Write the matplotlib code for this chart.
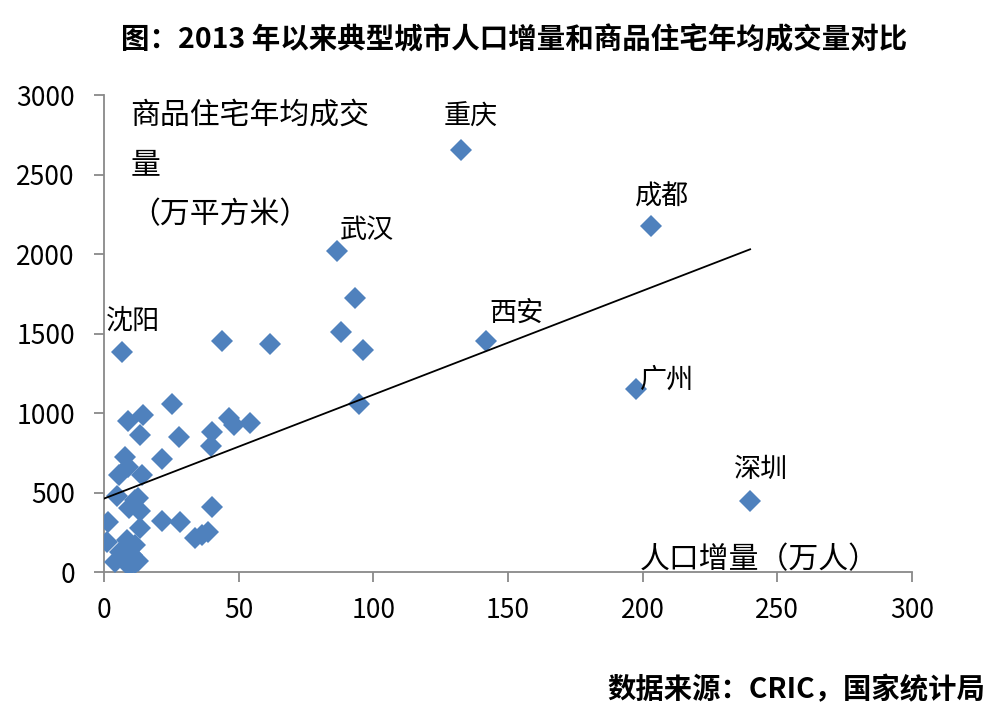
import numpy as np
import matplotlib
matplotlib.use('Agg')
from matplotlib import pyplot as plt

plt.rcParams['font.family'] = ['Noto Sans CJK SC', 'DejaVu Sans']

blue = '#4F81BD'
gray = '#898989'

# 人口增量（万人） vs 商品住宅年均成交量（万平方米）
city_names = ['重庆', '成都', '武汉', '西安', '广州', '深圳', '沈阳']
city_x = [132.4, 203.1, 86.5, 141.8, 197.5, 239.9, 6.8]
city_y = [2656, 2178, 2020, 1455, 1150, 448, 1386]
# label centres
label_x = [136.3, 207.2, 97.7, 153.0, 209.0, 244.0, 10.6]
label_y = [2862, 2358, 2151, 1629, 1208, 642, 1579]

other_x = [93.2, 88.0, 96.2, 94.7, 61.6, 43.8, 25.2, 14.6, 9.0, 13.4,
           27.8, 46.3, 48.4, 54.2, 40.2, 39.7, 21.4, 7.8, 9.0, 5.6,
           14.0, 4.7, 12.6, 9.4, 13.5, 11.5, 40.1, 1.6, 13.4, 21.4,
           28.2, 33.8, 36.3, 38.7, 1.0, 8.4, 11.5, 5.9, 10.3, 4.1,
           7.8, 12.7, 9.3, 11.5]
other_y = [1723, 1509, 1396, 1057, 1434, 1453, 1057, 987, 952, 862,
           847, 970, 925, 939, 880, 790, 709, 721, 659, 610,
           610, 478, 468, 405, 385, 453, 411, 312, 275, 322,
           312, 212, 233, 253, 191, 200, 170, 128, 107, 60,
           75, 70, 35, 55]

x = np.array(city_x + other_x)
y = np.array(city_y + other_y)

fig = plt.figure(figsize=(10, 7.27), dpi=100)
ax = fig.add_axes([0.104, 0.2132, 0.808, 0.6561])

ax.plot(x, y, linestyle='none', marker='D', markersize=10.8,
        markerfacecolor=blue, markeredgewidth=0, zorder=3)

# linear trend line
slope, intercept = np.polyfit(x, y, 1)
tx = np.array([0, x.max()])
ax.plot(tx, intercept + slope * tx, color='black', linewidth=1.3, zorder=4)

for name, lx, ly in zip(city_names, label_x, label_y):
    ax.text(lx, ly, name, ha='center', va='center', fontsize=19.5)

ylabel_lines = ['商品住宅年均成交', '量', '（万平方米）']
ylabel_y = [2874, 2560, 2245]
for line, ly in zip(ylabel_lines, ylabel_y):
    ax.text(9.7, ly, line, ha='left', va='center', fontsize=21.5)

ax.text(243.2, 75, '人口增量（万人）', ha='center', va='center', fontsize=21.5)

ax.set_xlim(0, 300)
ax.set_ylim(0, 3000)
ax.set_xticks(np.arange(0, 301, 50))
ax.set_yticks(np.arange(0, 3001, 500))
for side in ['top', 'right']:
    ax.spines[side].set_visible(False)
for side in ['left', 'bottom']:
    ax.spines[side].set_color(gray)
    ax.spines[side].set_linewidth(1.3)
ax.tick_params(axis='both', direction='out', color=gray, width=1.3,
               length=7, labelsize=19)
ax.tick_params(axis='y', pad=14)
ax.tick_params(axis='x', pad=11)

fig.text(0.514, 0.945, '图：2013 年以来典型城市人口增量和商品住宅年均成交量对比',
         ha='center', va='center', fontsize=20.5, fontweight='bold')
fig.text(0.985, 0.051, '数据来源：CRIC，国家统计局', ha='right', va='center',
         fontsize=20.4, fontweight='bold')

fig.savefig('out.png', dpi=100)
